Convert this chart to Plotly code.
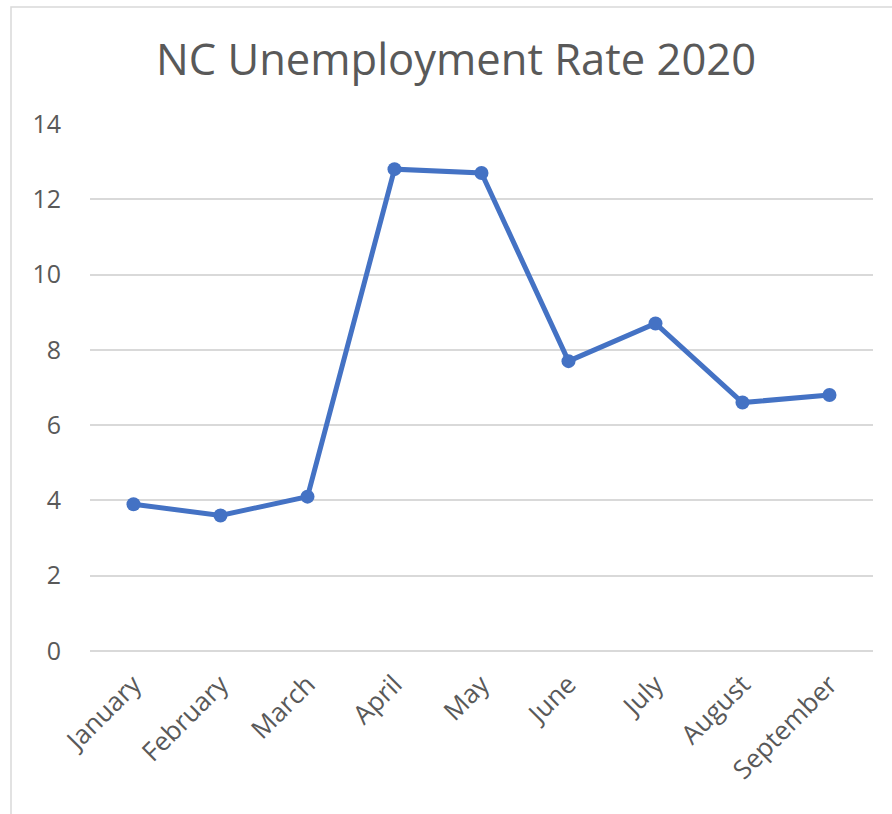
import plotly.graph_objects as go

months = ["January", "February", "March", "April", "May", "June", "July", "August", "September"]
rate = [3.9, 3.6, 4.1, 12.8, 12.7, 7.7, 8.7, 6.6, 6.8]
y_ticks = [0, 2, 4, 6, 8, 10, 12, 14]

W, H = 892, 814
L, R, T, B = 90, 19, 124, 163
plot_w = W - L - R
plot_h = H - T - B


def px_x(x):
    return (x - L) / plot_w


def px_y(y):
    return (H - B - y) / plot_h


fig = go.Figure(
    go.Scatter(
        x=months,
        y=rate,
        mode="lines+markers",
        line=dict(color="#4472C4", width=5),
        marker=dict(color="#4472C4", size=14),
        showlegend=False,
    )
)

text_font = "Open Sans, Liberation Sans, sans-serif"

fig.update_layout(
    width=W,
    height=H,
    margin=dict(l=L, r=R, t=T, b=B),
    paper_bgcolor="white",
    plot_bgcolor="white",
    title=dict(
        text="NC Unemployment Rate 2020",
        x=456 / W, xref="container", xanchor="center",
        y=1 - 60 / H, yref="container", yanchor="middle",
        font=dict(family=text_font, size=43.5, color="#595959"),
    ),
    xaxis=dict(
        type="category",
        range=[-0.5, len(months) - 0.5],
        showgrid=False,
        showline=False,
        zeroline=False,
        ticks="",
        tickangle=-45,
        ticklabelstandoff=12,
        tickfont=dict(family=text_font, size=26, color="#595959"),
    ),
    yaxis=dict(
        range=[0, 14],
        tickvals=y_ticks,
        showgrid=True,
        gridcolor="#D9D9D9",
        gridwidth=1.5,
        zeroline=True,
        zerolinecolor="#D9D9D9",
        zerolinewidth=1.5,
        showline=False,
        ticks="",
        ticklabelstandoff=28,
        tickfont=dict(family=text_font, size=25, color="#595959"),
    ),
    shapes=[
        dict(
            type="rect", xref="paper", yref="paper",
            x0=px_x(11), x1=px_x(905), y0=px_y(830), y1=px_y(7),
            line=dict(color="#D9D9D9", width=1.5),
            fillcolor="rgba(0,0,0,0)", layer="below",
        )
    ],
)

fig.write_html("out.html")
